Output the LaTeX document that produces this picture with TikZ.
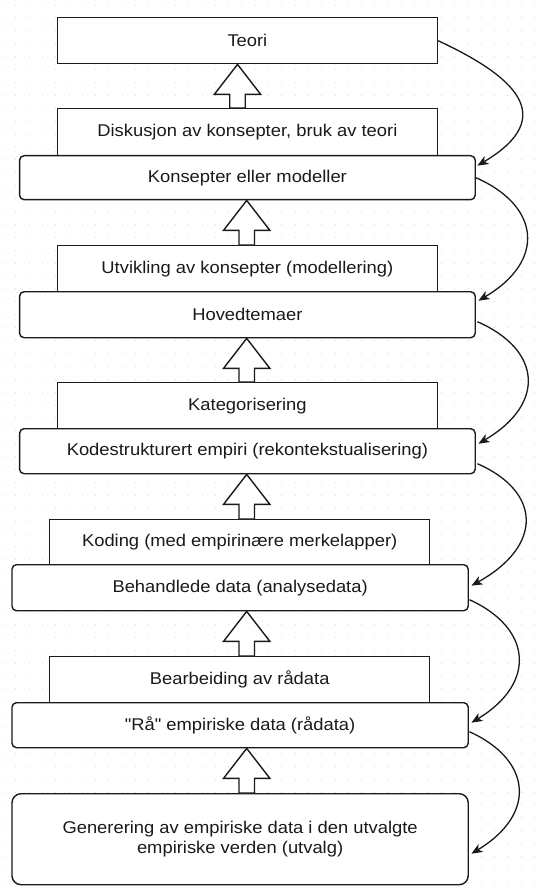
\documentclass[tikz,border=0pt]{standalone}
\usepackage{fontspec}
\setmainfont{Liberation Sans}[FakeStretch=1.08, Ligatures=TeXOff]
\usetikzlibrary{arrows.meta,calc}
\definecolor{ink}{HTML}{1A1A1A}
\definecolor{gridgray}{HTML}{DCDCDC}

% hollow upward block arrow between two stacked boxes
% #1 lower box, #2 upper box, #3 x of the arrow axis
\newcommand\liftarrow[3]{%
  \draw[blockarrow] let \p1=(#1.north), \p2=(#2.south) in
    (#3pt-7.75pt,\y1) -- (#3pt+7.75pt,\y1) -- (#3pt+7.75pt,\y2-30pt)
    -- (#3pt+23.2pt,\y2-30pt) -- (#3pt,\y2) -- (#3pt-23.2pt,\y2-30pt)
    -- (#3pt-7.75pt,\y2-30pt) -- cycle;}

\tikzset{
  boxbase/.style={draw=ink, line width=1.4pt, fill=white, inner sep=0pt,
    anchor=north west, text=ink, align=center,
    font=\fontsize{17}{20}\selectfont},
  plainbox/.style={boxbase, minimum width=380pt},
  roundbox/.style={boxbase, rounded corners=4.5pt, minimum width=455.6pt},
  widebox/.style={boxbase, rounded corners=4.5pt, minimum width=456.2pt},
  blockarrow/.style={draw=ink, line width=1.4pt, fill=white, line join=miter},
  curve/.style={draw=ink, line width=1.3pt,
    -{Stealth[length=11pt, width=9pt, inset=3pt]}},
  griddot/.style={draw=gridgray, line width=0.8pt,
    dash pattern=on 0.8pt off 12.5pt}
}

\begin{document}
\begin{tikzpicture}[x=1pt, y=-1pt]
  \useasboundingbox (0,0) rectangle (539,893);
  \fill[white] (0,0) rectangle (539,893);

  % background dot grid
  \foreach \gy in {0,...,69}
    \draw[griddot] (2,{5+12.9*\gy}) -- (539,{5+12.9*\gy});

  % stages (label box above, result box below)
  \node[plainbox, minimum height=46pt] (teori) at (56.7,17) {Teori};
  \node[plainbox, minimum height=47pt] (diskusjon) at (56.7,108)
    {Diskusjon av konsepter, bruk av teori};
  \node[roundbox, minimum height=44pt] (konsepter) at (18.9,155)
    {Konsepter eller modeller};

  \node[plainbox, minimum height=46pt] (utvikling) at (56.7,245)
    {Utvikling av konsepter (modellering)};
  \node[roundbox, minimum height=46pt] (hovedtemaer) at (18.9,291)
    {Hovedtemaer};

  \node[plainbox, minimum height=46pt] (kategorisering) at (56.7,382)
    {Kategorisering};
  \node[roundbox, minimum height=45pt] (kodestrukturert) at (18.9,428)
    {Kodestrukturert empiri (rekontekstualisering)};

  \node[plainbox, minimum height=45pt] (koding) at (49,519)
    {Koding (med empirinære merkelapper)};
  \node[widebox, minimum height=46pt] (behandlede) at (11.3,564)
    {Behandlede data (analysedata)};

  \node[plainbox, minimum height=46pt] (bearbeiding) at (49,656)
    {Bearbeiding av rådata};
  \node[widebox, minimum height=45pt] (raa) at (11.3,702)
    {"Rå" empiriske data (rådata)};

  \node[widebox, rounded corners=9pt, minimum height=91pt] (generering)
    at (11.3,793)
    {Generering av empiriske data i den utvalgte\\empiriske verden (utvalg)};

  % upward block arrows
  \liftarrow{diskusjon}{teori}{237.5}
  \liftarrow{utvikling}{konsepter}{246.7}
  \liftarrow{kategorisering}{hovedtemaer}{246.7}
  \liftarrow{koding}{kodestrukturert}{246.7}
  \liftarrow{bearbeiding}{behandlede}{246.7}
  \liftarrow{generering}{raa}{246.7}

  % curved links on the right side
  \draw[curve] (teori.east) .. controls +(73,34) and +(84,-50) ..
    ($(konsepter.east)+(1.5,-12)$);
  \draw[curve] (konsepter.east) .. controls +(64,28) and +(68,-40) ..
    ($(hovedtemaer.east)+(2.5,-14)$);
  \draw[curve] ($(hovedtemaer.east)+(1.5,7)$) .. controls +(64,28) and +(68,-40) ..
    ($(kodestrukturert.east)+(2.5,-7.5)$);
  \draw[curve] ($(kodestrukturert.east)+(1.5,12.5)$) .. controls +(64,28) and +(72,-40) ..
    ($(behandlede.east)+(2.5,-2)$);
  \draw[curve] ($(behandlede.east)+(0.5,12)$) .. controls +(62,28) and +(66,-40) ..
    ($(raa.east)+(2.5,-2.5)$);
  \draw[curve] ($(raa.east)+(0.5,6.5)$) .. controls +(62,28) and +(66,-40) ..
    ($(generering.east)+(2.5,14.5)$);
\end{tikzpicture}
\end{document}
